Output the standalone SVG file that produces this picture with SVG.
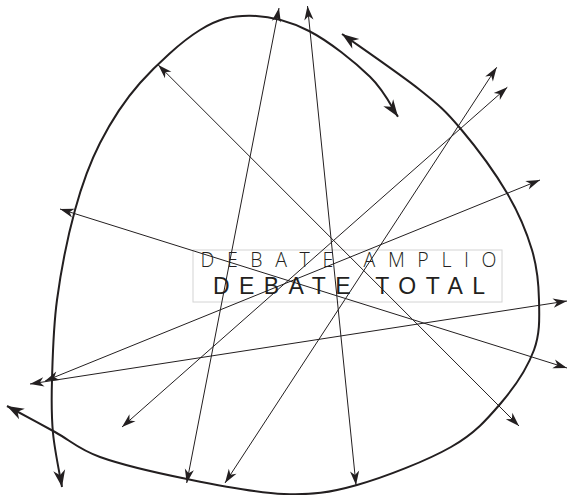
<svg xmlns="http://www.w3.org/2000/svg" width="568" height="495" viewBox="0 0 568 495">
  <style>
    .arc { fill: none; stroke: #231f20; stroke-width: 2; marker-start: url(#bigArrow); marker-end: url(#bigArrow); }
    .ln { stroke: #231f20; stroke-width: 1; marker-start: url(#arrow); marker-end: url(#arrow); }
    .t1 { font-family: "Open Sans", "Liberation Sans", sans-serif; font-weight: 300; font-size: 19.5px; fill: #231f20; }
    .t2 { font-family: "Liberation Sans", Arial, sans-serif; font-weight: normal; font-size: 23px; fill: #231f20; }
  </style>
  <defs>
    <marker id="arrow" markerUnits="userSpaceOnUse" viewBox="-15 -6 16 12" markerWidth="16" markerHeight="12" refX="0" refY="0" orient="auto-start-reverse">
      <path d="M0,0 L-14,-4.6 L-10,0 L-14,4.6 Z" fill="#231f20"/>
    </marker>
    <marker id="bigArrow" markerUnits="userSpaceOnUse" viewBox="-18 -8 19 16" markerWidth="19" markerHeight="16" refX="0" refY="0" orient="auto-start-reverse">
      <path d="M0,0 L-17,-6 L-12,0 L-17,6 Z" fill="#231f20"/>
    </marker>
  </defs>

  <g id="arcs">
    <path id="arc-inner" class="arc" d="M62,487 C60.5,478 54.67,450.83 53,433 C51.33,415.17 51.33,402.17 52,380 C52.67,357.83 53.17,328.33 57,300 C60.83,271.67 67.83,236.17 75,210 C82.17,183.83 89.17,164.17 100,143 C110.83,121.83 123.33,101.83 140,83 C156.67,64.17 181.67,41.22 200,30 C218.33,18.78 231.83,15.53 250,15.7 C268.17,15.87 289,20.83 309,31 C329,41.17 355.17,62.42 370,76.7 C384.83,90.98 393.33,110.03 398,116.7"/>
    <path id="arc-outer" class="arc" d="M342,34 C355,43.33 400.33,74.33 420,90 C439.67,105.67 445.5,110.83 460,128 C474.5,145.17 495,172.67 507,193 C519,213.33 526.67,232.17 532,250 C537.33,267.83 538.67,283.33 539,300 C539.33,316.67 540.33,332.83 534,350 C527.67,367.17 514.83,386.83 501,403 C487.17,419.17 475,433.33 451,447 C427,460.67 384.83,477.17 357,485 C329.17,492.83 312.33,495 284,494 C255.67,493 217.67,485.17 187,479 C156.33,472.83 122,464.83 100,457 C78,449.17 70.5,440.5 55,432 C39.5,423.5 15,410.33 7,406"/>
  </g>

  <g id="node-debate">
    <rect x="193" y="250" width="309" height="52" fill="none" stroke="#d4d4d4" stroke-width="1"/>
    <text class="t1" x="200.5" y="266.5" textLength="296" lengthAdjust="spacing">DEBATE AMPLIO</text>
    <text class="t2" x="213" y="294" textLength="272" lengthAdjust="spacing">DEBATE TOTAL</text>
  </g>

  <g id="connectors">
    <line class="ln" x1="158.3" y1="65" x2="519" y2="426"/>
    <line class="ln" x1="279" y1="8" x2="186.7" y2="483"/>
    <line class="ln" x1="307.5" y1="6" x2="356" y2="485"/>
    <line class="ln" x1="496.7" y1="67.3" x2="225" y2="483"/>
    <line class="ln" x1="507.3" y1="87.3" x2="122" y2="427"/>
    <line class="ln" x1="540" y1="180" x2="45" y2="381"/>
    <line class="ln" x1="60" y1="209" x2="567" y2="368"/>
    <line class="ln" x1="567" y1="301" x2="30" y2="384"/>
  </g>
</svg>
